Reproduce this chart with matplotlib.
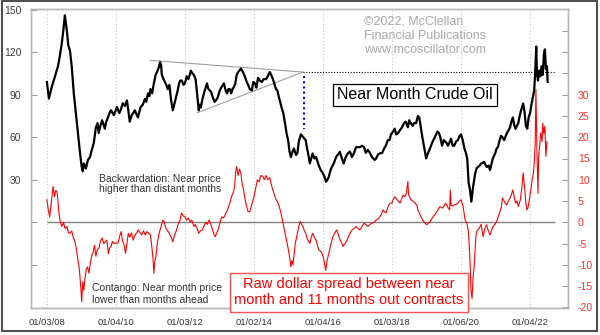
import matplotlib
matplotlib.use("Agg")
from matplotlib import pyplot as plt
from matplotlib.patches import Rectangle

plt.rcParams['font.family'] = ['Liberation Sans', 'DejaVu Sans']

# near month crude oil price, x in decimal years
price_years = [2008.00, 2008.06, 2008.14, 2008.23, 2008.32, 2008.38, 2008.43, 2008.48, 2008.52, 2008.58,
               2008.62, 2008.67, 2008.72, 2008.78, 2008.84, 2008.90, 2008.96, 2009.01, 2009.04, 2009.07,
               2009.13, 2009.19, 2009.25, 2009.30, 2009.36, 2009.42, 2009.47, 2009.50, 2009.55, 2009.60,
               2009.68, 2009.72, 2009.77, 2009.83, 2009.86, 2009.94, 2009.98, 2010.03, 2010.10, 2010.15,
               2010.20, 2010.26, 2010.32, 2010.36, 2010.40, 2010.46, 2010.50, 2010.55, 2010.60, 2010.64,
               2010.68, 2010.72, 2010.78, 2010.84, 2010.88, 2010.93, 2010.97, 2011.00, 2011.05, 2011.10,
               2011.15, 2011.19, 2011.24, 2011.28, 2011.31, 2011.33, 2011.38, 2011.42, 2011.46, 2011.50,
               2011.55, 2011.60, 2011.65, 2011.70, 2011.74, 2011.79, 2011.83, 2011.87, 2011.91, 2011.96,
               2012.00, 2012.05, 2012.10, 2012.14, 2012.17, 2012.22, 2012.26, 2012.31, 2012.35, 2012.40,
               2012.43, 2012.46, 2012.50, 2012.55, 2012.60, 2012.64, 2012.68, 2012.72, 2012.76, 2012.81,
               2012.86, 2012.90, 2012.95, 2013.01, 2013.05, 2013.13, 2013.18, 2013.22, 2013.26, 2013.30,
               2013.34, 2013.38, 2013.42, 2013.46, 2013.50, 2013.54, 2013.58, 2013.62, 2013.66, 2013.70,
               2013.75, 2013.79, 2013.83, 2013.88, 2013.94, 2013.98, 2014.03, 2014.07, 2014.12, 2014.17,
               2014.23, 2014.28, 2014.35, 2014.40, 2014.46, 2014.50, 2014.55, 2014.60, 2014.64, 2014.68,
               2014.72, 2014.76, 2014.80, 2014.85, 2014.90, 2014.95, 2014.99, 2015.03, 2015.07, 2015.12,
               2015.16, 2015.22, 2015.26, 2015.30, 2015.36, 2015.42, 2015.46, 2015.50, 2015.54, 2015.57,
               2015.62, 2015.66, 2015.70, 2015.75, 2015.80, 2015.84, 2015.88, 2015.93, 2015.97, 2016.03,
               2016.09, 2016.13, 2016.17, 2016.22, 2016.26, 2016.32, 2016.38, 2016.44, 2016.49, 2016.55,
               2016.60, 2016.66, 2016.72, 2016.78, 2016.84, 2016.90, 2016.96, 2017.02, 2017.07, 2017.13,
               2017.19, 2017.24, 2017.30, 2017.36, 2017.42, 2017.46, 2017.50, 2017.54, 2017.60, 2017.65,
               2017.72, 2017.77, 2017.82, 2017.88, 2017.93, 2017.97, 2018.03, 2018.08, 2018.12, 2018.18,
               2018.23, 2018.29, 2018.35, 2018.40, 2018.46, 2018.50, 2018.55, 2018.60, 2018.64, 2018.70,
               2018.75, 2018.79, 2018.84, 2018.88, 2018.93, 2018.99, 2019.03, 2019.10, 2019.16, 2019.22,
               2019.28, 2019.32, 2019.36, 2019.40, 2019.45, 2019.50, 2019.54, 2019.58, 2019.62, 2019.68,
               2019.71, 2019.76, 2019.80, 2019.86, 2019.91, 2019.96, 2020.00, 2020.05, 2020.10, 2020.14,
               2020.18, 2020.22, 2020.26, 2020.30, 2020.35, 2020.41, 2020.45, 2020.49, 2020.54, 2020.58,
               2020.63, 2020.67, 2020.72, 2020.75, 2020.80, 2020.84, 2020.88, 2020.92, 2020.96, 2020.99,
               2021.03, 2021.07, 2021.12, 2021.16, 2021.20, 2021.25, 2021.30, 2021.33, 2021.38, 2021.42,
               2021.46, 2021.50, 2021.54, 2021.58, 2021.62, 2021.66, 2021.70, 2021.74, 2021.80, 2021.84,
               2021.88, 2021.92, 2021.96, 2022.00, 2022.04, 2022.08, 2022.12, 2022.15, 2022.18, 2022.20,
               2022.23, 2022.26, 2022.30, 2022.33, 2022.37, 2022.40, 2022.43, 2022.46, 2022.49, 2022.51]
price = [99, 87.3, 95.5, 102.5, 110, 118, 126, 136, 146, 135,
         125, 121, 110, 91, 77, 63, 49, 39, 36, 41.5,
         38, 44, 46, 51, 56, 67, 70, 63, 68, 72,
         66, 71, 74, 78, 79, 75.6, 78, 81.4, 77, 80,
         84, 82, 86, 79, 71, 75.6, 77, 79, 76, 74,
         78, 81.4, 83, 87, 85, 91, 89, 94, 91, 98,
         104, 106, 109, 113, 111, 104, 101, 99, 97, 94,
         97, 86, 79, 84, 88, 93, 98, 100, 100, 97,
         98, 103, 101, 104, 107, 105, 104, 101, 91, 79,
         83, 81, 86, 91, 95, 98, 94, 93, 92, 88,
         85, 86, 88, 93, 95, 98, 93, 91, 94, 94,
         91, 94, 95.5, 98, 104, 106, 107, 108.5, 107, 105,
         102, 99, 97, 94, 93, 99, 98, 95, 102, 100,
         99, 101, 101, 103, 106, 104, 101, 97, 94, 93,
         88.5, 85, 81, 77, 70, 62, 58, 50, 46, 50,
         52, 47.4, 49, 57, 62, 60.3, 59, 58, 52, 48.6,
         41.5, 45, 48.6, 45, 46, 43, 40, 37, 35.6, 33,
         28.6, 30, 32, 37, 39, 42, 46, 48, 49.7, 45,
         41.5, 46, 48.6, 50, 46, 49, 53, 53, 53, 54,
         53, 49, 51, 49, 46, 45, 44, 45, 48, 48.6,
         49, 52, 54, 58, 58, 62, 64, 66, 62, 63,
         65, 67, 70, 71, 67, 72, 69.7, 68, 70, 70,
         75, 74, 66, 60, 53, 45, 48, 52, 56, 59,
         62, 64, 63, 60, 54, 58, 57, 56, 54, 57,
         59, 54, 54, 57, 58, 61, 62, 58, 52, 49,
         45, 28, 23, 14.5, 25, 34.5, 38, 39, 40, 41.5,
         42, 42.7, 40, 39, 40, 36.8, 41, 45, 47, 48.6,
         52, 53, 58, 61, 60, 58, 61, 63, 65, 67,
         71, 74, 69, 66, 68, 70, 75, 79, 83.8, 78,
         68, 66, 74, 77, 83, 88, 93, 106, 124, 105,
         100, 107, 103, 110, 104, 118, 122, 108, 110, 99]

# raw dollar spread near month minus 11 months out
spread_years = [2008.00, 2008.04, 2008.08, 2008.12, 2008.16, 2008.18, 2008.22, 2008.26, 2008.30, 2008.34,
                2008.38, 2008.43, 2008.48, 2008.53, 2008.58, 2008.63, 2008.67, 2008.72, 2008.76, 2008.80,
                2008.85, 2008.90, 2008.94, 2008.98, 2009.01, 2009.04, 2009.07, 2009.10, 2009.14, 2009.18,
                2009.22, 2009.26, 2009.30, 2009.34, 2009.38, 2009.42, 2009.46, 2009.51, 2009.55, 2009.60,
                2009.65, 2009.70, 2009.74, 2009.78, 2009.82, 2009.86, 2009.90, 2009.95, 2010.00, 2010.06,
                2010.12, 2010.15, 2010.19, 2010.24, 2010.28, 2010.32, 2010.36, 2010.40, 2010.45, 2010.50,
                2010.55, 2010.60, 2010.65, 2010.70, 2010.75, 2010.80, 2010.85, 2010.90, 2010.95, 2011.00,
                2011.04, 2011.08, 2011.10, 2011.13, 2011.16, 2011.20, 2011.24, 2011.28, 2011.32, 2011.36,
                2011.40, 2011.45, 2011.50, 2011.55, 2011.60, 2011.65, 2011.70, 2011.75, 2011.80, 2011.86,
                2011.90, 2011.95, 2012.00, 2012.05, 2012.10, 2012.15, 2012.20, 2012.26, 2012.30, 2012.35,
                2012.40, 2012.45, 2012.50, 2012.55, 2012.60, 2012.65, 2012.70, 2012.75, 2012.80, 2012.85,
                2012.88, 2012.92, 2012.96, 2013.02, 2013.07, 2013.12, 2013.19, 2013.24, 2013.30, 2013.35,
                2013.40, 2013.44, 2013.47, 2013.50, 2013.54, 2013.58, 2013.62, 2013.66, 2013.70, 2013.74,
                2013.78, 2013.83, 2013.88, 2013.93, 2014.00, 2014.05, 2014.10, 2014.15, 2014.20, 2014.26,
                2014.30, 2014.35, 2014.40, 2014.46, 2014.50, 2014.55, 2014.58, 2014.63, 2014.70, 2014.74,
                2014.78, 2014.84, 2014.90, 2014.94, 2014.98, 2015.03, 2015.07, 2015.10, 2015.13, 2015.17,
                2015.20, 2015.25, 2015.30, 2015.34, 2015.38, 2015.42, 2015.46, 2015.50, 2015.55, 2015.62,
                2015.66, 2015.70, 2015.75, 2015.80, 2015.84, 2015.88, 2015.93, 2015.97, 2016.02, 2016.05,
                2016.08, 2016.12, 2016.17, 2016.22, 2016.29, 2016.34, 2016.40, 2016.45, 2016.50, 2016.55,
                2016.58, 2016.64, 2016.70, 2016.76, 2016.84, 2016.90, 2016.96, 2017.02, 2017.07, 2017.13,
                2017.19, 2017.24, 2017.30, 2017.36, 2017.42, 2017.48, 2017.54, 2017.60, 2017.65, 2017.70,
                2017.74, 2017.78, 2017.83, 2017.88, 2017.94, 2018.00, 2018.03, 2018.08, 2018.12, 2018.18,
                2018.23, 2018.28, 2018.32, 2018.38, 2018.42, 2018.46, 2018.48, 2018.55, 2018.60, 2018.67,
                2018.72, 2018.75, 2018.80, 2018.84, 2018.89, 2018.93, 2018.97, 2019.01, 2019.05, 2019.10,
                2019.15, 2019.19, 2019.24, 2019.28, 2019.34, 2019.39, 2019.44, 2019.48, 2019.52, 2019.56,
                2019.62, 2019.67, 2019.69, 2019.71, 2019.76, 2019.80, 2019.86, 2019.91, 2019.96, 2020.00,
                2020.06, 2020.12, 2020.17, 2020.21, 2020.23, 2020.26, 2020.29, 2020.32, 2020.35, 2020.38,
                2020.41, 2020.43, 2020.46, 2020.49, 2020.53, 2020.58, 2020.64, 2020.69, 2020.74, 2020.79,
                2020.84, 2020.88, 2020.93, 2020.98, 2021.03, 2021.08, 2021.13, 2021.17, 2021.20, 2021.25,
                2021.28, 2021.32, 2021.37, 2021.42, 2021.46, 2021.50, 2021.54, 2021.58, 2021.62, 2021.66,
                2021.72, 2021.76, 2021.80, 2021.84, 2021.88, 2021.91, 2021.94, 2021.98, 2022.03, 2022.06,
                2022.10, 2022.13, 2022.15, 2022.17, 2022.20, 2022.23, 2022.25, 2022.28, 2022.31, 2022.35,
                2022.37, 2022.40, 2022.43, 2022.46, 2022.49]
spread = [5.3, 3.0, 1.3, 4, 7, 8.4, 6, 7.5, 6.9, 3,
          0.5, -1, 0, -1.5, -1, -2.5, -2.6, -2, -3.5, -4.2,
          -6, -8.9, -11, -15, -18.7, -14, -16, -13.6, -11, -10.5,
          -12, -9.5, -8, -7, -5.4, -8, -6.5, -6, -4.5, -3.7,
          -5, -4.5, -4.2, -7.4, -6, -5.7, -4.5, -5, -4.9, -4.9,
          -3, -2.2, -4.2, -5.5, -7.3, -5, -2.6, -3.5, -2.5, -4.2,
          -3, -2.5, -1.8, -2.5, -3, -2, -3, -2.2, -2.6, -3,
          -5.7, -9, -12, -9, -8.1, -5, -3, -1.8, -0.5, 0.5,
          0, -1.4, -2, -2.6, -3.5, -4.6, -3, -2, -0.5, 0.5,
          2.2, 1.5, 1.3, 0.5, 1, 0.1, 0.5, -1, -0.5, -1.4,
          -2.6, -2, -1.8, -1, 0, -0.5, 0.5, -0.5, -1.8, -3,
          -3.4, -2.5, -1.8, 0, 1.3, 1, 2.2, 3, 4.5, 6,
          7, 8.4, 12, 13.1, 11, 12.5, 11.6, 9, 7.6, 5.5,
          4, 2.5, 2.5, 4, 6, 8, 10, 9.5, 11, 10.8,
          10, 11, 10, 10.5, 9, 7.5, 6.8, 5.5, 4.5, 3.5,
          2.2, 0, -2.6, -4, -5.7, -8, -10.5, -9, -10, -7,
          -4.9, -3, -1, 0.2, -0.5, -1, -2, -2.6, -4, -5,
          -3.5, -2.6, -3.5, -4.2, -5.5, -6.5, -6.8, -7.3, -8.5, -10,
          -11.3, -9, -7.3, -5.5, -3.4, -2.5, -1.8, -3, -4.2, -5,
          -5.7, -5, -4.2, -3, -1.8, -1.5, -1, -1.5, -1.8, -1,
          -0.2, -0.5, -1, -0.5, -0.2, 0, 0.5, 0.8, 1.3, 2,
          2.9, 2.5, 2.2, 3.5, 4.5, 4.5, 5.3, 6, 5.6, 5,
          4.5, 5.5, 6.4, 6, 7, 9.6, 6.5, 5.3, 5, 4.5,
          4, 2.9, 2, 1.3, 0.5, 0.1, -0.3, -0.6, -0.2, 0.1,
          0.8, 1.3, 1.8, 2.2, 3, 3.7, 3.4, 3.4, 4, 4.5,
          3.5, 2.9, 7.6, 4, 3.8, 4.1, 4.2, 4.5, 5, 5.3,
          3.7, 0.5, -0.2, -2, -4.2, -8.9, -16, -17.9, -13, -10.5,
          -6, -3.4, -2, -1.8, -1.4, -0.5, -3.4, -1.5, -0.6, -2,
          -3, -2, -1, -0.5, 0.2, 1.3, 2.5, 3.7, 5.7, 5,
          4.5, 4.1, 5, 5.7, 6.5, 7.6, 6, 4.5, 5, 3.7,
          5.3, 8, 11.6, 8.4, 4.5, 2.9, 3.4, 5.3, 8, 10,
          11.6, 15, 18.7, 31.2, 17, 6.8, 15.5, 18, 21, 19,
          23.3, 20.9, 22.6, 15.5, 19]

# hand drawn triangle and target lines (decimal year, price)
upper_line_x = [2010.99, 2015.42]
upper_line_y = [114.3, 106]
lower_line_x = [2012.35, 2015.42]
lower_line_y = [77.2, 106]
target_x = [2015.42, 2022.72]
target_y = [106, 106]
drop_x = [2015.46, 2015.46]
drop_y = [103, 66]

tick_labels = ["01/03/08", "01/04/10", "01/03/12", "01/02/14",
               "01/04/16", "01/03/18", "01/06/20", "01/04/22"]


def to_year(s):
    m, d, y = [int(v) for v in s.split("/")]
    days = [0, 31, 59, 90, 120, 151, 181, 212, 243, 273, 304, 334]
    return 2000 + y + (days[m - 1] + d - 1) / 365.25


tick_pos = [to_year(s) for s in tick_labels]

fig = plt.figure(figsize=(6, 3.35), dpi=100)
ax = fig.add_axes([31 / 600, 1 - 308 / 335, 537 / 600, 299 / 335])
ax2 = ax.twinx()
ax.set_zorder(ax2.get_zorder() + 1)
ax.patch.set_visible(False)

ax.set_xlim(2007.54, 2023.10)
ax.set_ylim(-60.5, 150.5)
ax2.set_ylim(-20.17, 50.17)

# grid + zero line under everything
for p in tick_pos:
    ax2.axvline(p, color="#c8c8c8", lw=0.8, ls=(0, (1, 2)), zorder=0)
ax2.hlines(0, price_years[0], target_x[1], color="#808080", lw=1, zorder=1)

ax2.plot(spread_years, spread, color="#ff0000", lw=0.8, zorder=2)
ax.plot(price_years, price, color="black", lw=1.6, zorder=3)

ax.plot(upper_line_x, upper_line_y, color="#a0a0a0", lw=0.8, zorder=2)
ax.plot(lower_line_x, lower_line_y, color="#a0a0a0", lw=0.8, zorder=2)
ax.plot(target_x, target_y, color="black", lw=0.8, ls=(0, (1, 1.5)), zorder=2)
ax.plot(drop_x, drop_y, color="blue", lw=1.5, ls=(0, (1, 1.5)), zorder=2)

# axes styling
for a in (ax, ax2):
    for sp in a.spines.values():
        sp.set_color("#b8b8b8")
        sp.set_linewidth(1)

ax.set_xticks(tick_pos)
ax.set_xticklabels(tick_labels, fontsize=6.8, color="#333333")
ax.tick_params(axis="x", length=0, pad=7)

left_ticks = [-30, 0, 30, 60, 90, 120, 150]
ax.set_yticks(left_ticks)
ax.set_yticklabels([str(t) if t >= 30 else "" for t in left_ticks], fontsize=7.5, color="#404040")
ax.tick_params(axis="y", direction="in", length=4, color="#a0a0a0", pad=7)

right_ticks = list(range(-20, 50, 5))
ax2.set_yticks(right_ticks)
ax2.set_yticklabels([str(t) if t <= 30 else "" for t in right_ticks], fontsize=7.5, color="#ff3030")
ax2.tick_params(axis="y", direction="in", length=4, color="#a0a0a0", pad=7)

# texts
fig.text(364 / 600, 1 - 36 / 335, "\u00a92022, McClellan\nFinancial Publications\nwww.mcoscillator.com",
         fontsize=9, color="#a8a8a8", ha="left", va="center", linespacing=1.25)

fig.text(415 / 600, 1 - 95 / 335, "Near Month Crude Oil", fontsize=11.5, color="black",
         ha="center", va="center", zorder=10,
         bbox=dict(boxstyle="square,pad=0.25", fc="white", ec="black", lw=0.9))

fig.text(98.7 / 600, 1 - 184 / 335, "Backwardation: Near price\nhigher than distant months",
         fontsize=7.5, color="#333333", ha="left", va="center", linespacing=1.1)

fig.text(91.7 / 600, 1 - 294 / 335, "Contango: Near month price\nlower than months ahead",
         fontsize=7.5, color="#333333", ha="left", va="center", linespacing=1.2)

fig.text(348.5 / 600, 1 - 292.4 / 335, "Raw dollar spread between near\nmonth and 11 months out contracts",
         fontsize=10.5, color="#ff0000", ha="center", va="center", zorder=10, linespacing=1.2,
         bbox=dict(boxstyle="square,pad=0.3", fc="white", ec="#ff5050", lw=1))

# outer frame
fig.patches.append(Rectangle((2 / 600, 4 / 335), 595 / 600, 330 / 335, transform=fig.transFigure,
                             fill=False, ec="#505050", lw=1.5))

fig.savefig("out.png", dpi=100, facecolor="white")
